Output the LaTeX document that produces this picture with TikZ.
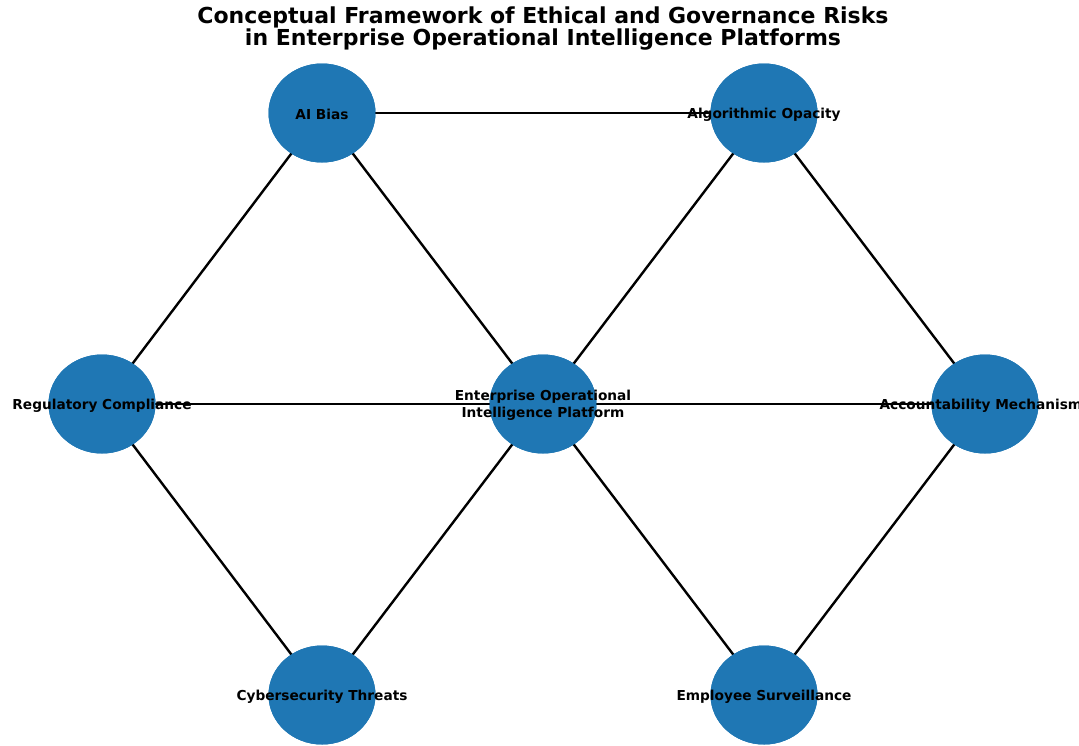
\documentclass[tikz,border=0pt]{standalone}
\usepackage{fontspec}
\setmainfont{DejaVu Sans}
\usetikzlibrary{shapes.geometric}
\definecolor{nodeblue}{HTML}{1F77B4}
\tikzset{
  risk/.style={ellipse, fill=nodeblue, minimum width=107pt, minimum height=99pt, inner sep=0pt},
  risklabel/.style={font=\fontsize{13.7}{16.5}\selectfont\bfseries, align=center, text=black, yshift=-1.5pt},
  link/.style={draw=black, line width=2.4pt}
}
\begin{document}
\begin{tikzpicture}[x=1pt, y=-1pt]
\useasboundingbox (0,0) rectangle (1079,745);
% nodes of the network
\node[risk] (bias) at (322,113) {};
\node[risk] (opacity) at (764,113) {};
\node[risk] (reg) at (102,404) {};
\node[risk] (core) at (543,404) {};
\node[risk] (acc) at (985,404) {};
\node[risk] (cyber) at (322,695) {};
\node[risk] (emp) at (764,695) {};
% connectors
\draw[link] (bias.center) -- (opacity.center);
\draw[link] (bias.center) -- (reg.center);
\draw[link] (bias.center) -- (core.center);
\draw[link] (opacity.center) -- (core.center);
\draw[link] (opacity.center) -- (acc.center);
\draw[link] (reg.center) -- (core.center);
\draw[link] (core.center) -- (acc.center);
\draw[link] (reg.center) -- (cyber.center);
\draw[link] (cyber.center) -- (core.center);
\draw[link] (core.center) -- (emp.center);
\draw[link] (emp.center) -- (acc.center);
% redraw node discs on top of the connectors
\foreach \n in {bias,opacity,reg,core,acc,cyber,emp}
  \fill[nodeblue] (\n.center) ellipse [x radius=53.5pt, y radius=49.5pt];
% labels
\node[risklabel] at (bias) {AI Bias};
\node[risklabel] at (opacity) {Algorithmic Opacity};
\node[risklabel] at (reg) {Regulatory Compliance};
\node[risklabel] at (core) {Enterprise Operational\\Intelligence Platform};
\node[risklabel] at (acc) {Accountability Mechanisms};
\node[risklabel] at (cyber) {Cybersecurity Threats};
\node[risklabel] at (emp) {Employee Surveillance};
% title
\node[font=\fontsize{22}{21.5}\selectfont\bfseries, align=center] (title) at (543,28.5)
  {Conceptual Framework of Ethical and Governance Risks\\in Enterprise Operational Intelligence Platforms};
\end{tikzpicture}
\end{document}
